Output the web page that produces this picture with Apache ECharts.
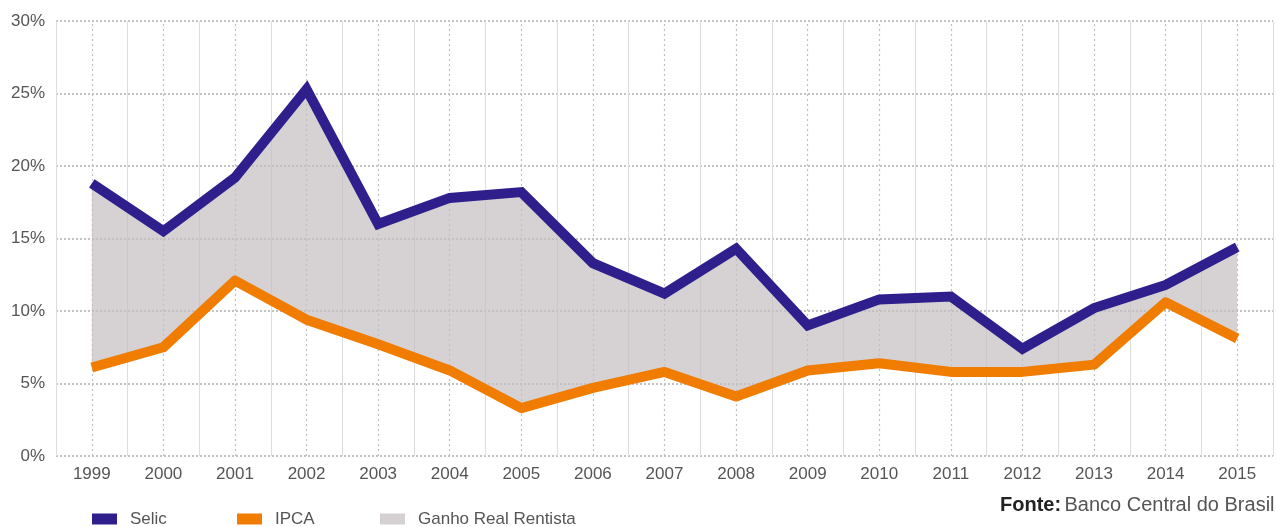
<!DOCTYPE html>
<html><head><meta charset="utf-8">
<script src="https://cdn.jsdelivr.net/npm/echarts@6/dist/echarts.min.js"></script>
<style>html,body{margin:0;padding:0;background:#fff}#c{width:1276px;height:527px}</style>
</head><body><div id="c"></div>
<script>
const years = ['1999','2000','2001','2002','2003','2004','2005','2006','2007','2008','2009','2010','2011','2012','2013','2014','2015'];
const selic = [18.8, 15.5, 19.2, 25.3, 16.0, 17.8, 18.2, 13.3, 11.2, 14.3, 9.0, 10.8, 11.0, 7.4, 10.2, 11.8, 14.4];
const ipca  = [6.1, 7.5, 12.1, 9.4, 7.7, 5.9, 3.3, 4.7, 5.8, 4.1, 5.9, 6.4, 5.8, 5.8, 6.3, 10.6, 8.1];
const yTicks = [0, 5, 10, 15, 20, 25, 30];
const legendNames = ['Selic', 'IPCA', 'Ganho Real Rentista'];
const sourceBold = 'Fonte:';
const sourceText = 'Banco Central do Brasil';
const gain = selic.map((v, i) => +(v - ipca[i]).toFixed(2));

const font = '"Liberation Sans", Arial, sans-serif';
const legendLeft = [92, 237, 380];
const chart = echarts.init(document.getElementById('c'), null, {renderer: 'canvas'});
chart.setOption({
  animation: false,
  grid: {left: 56, right: 3, top: 21, bottom: 71},
  legend: legendNames.map((n, i) => ({
    data: [n], left: legendLeft[i], top: 510, padding: 0,
    itemWidth: 25, itemHeight: 11, icon: 'rect',
    textStyle: {fontFamily: font, fontSize: 17, lineHeight: 18, color: '#555', padding: [0, 0, 0, 8]}
  })),
  xAxis: {
    type: 'category', data: years, boundaryGap: true,
    axisLine: {show: false}, axisTick: {show: false},
    axisLabel: {fontFamily: font, fontSize: 17, color: '#555', margin: 10},
    splitLine: {show: true, lineStyle: {color: '#dedede', width: 1}}
  },
  yAxis: {
    type: 'value', min: 0, max: 30, interval: 5,
    axisLine: {show: false}, axisTick: {show: false},
    axisLabel: {fontFamily: font, fontSize: 17, color: '#555', margin: 11,
      formatter: v => yTicks.includes(v) ? v + '%' : ''},
    splitLine: {lineStyle: {type: [2, 2], color: '#b0b0b0', width: 1.5}}
  },
  series: [
    {name: 'base', type: 'line', stack: 'g', data: ipca, symbol: 'none', silent: true,
     lineStyle: {width: 0, opacity: 0}, z: 1,
     markLine: {z: 1, symbol: 'none', silent: true, label: {show: false},
       lineStyle: {type: [2, 3], color: '#c0c0c0', width: 1.2},
       data: years.map(y => ({xAxis: y}))}},
    {name: 'Ganho Real Rentista', type: 'line', stack: 'g', data: gain, symbol: 'none',
     lineStyle: {width: 0, opacity: 0}, itemStyle: {color: '#d5d1d3'},
     areaStyle: {color: 'rgb(196,191,194)', opacity: 0.7}, z: 2},
    {name: 'Selic', type: 'line', data: selic, symbol: 'none', z: 4,
     itemStyle: {color: '#2f1f8c'}, lineStyle: {color: '#2f1f8c', width: 10, join: 'miter'}},
    {name: 'IPCA', type: 'line', data: ipca, symbol: 'none', z: 3,
     itemStyle: {color: '#f07c00'}, lineStyle: {color: '#f07c00', width: 10, join: 'round'}}
  ],
  graphic: [{
    type: 'text', x: 1000, y: 505,
    style: {verticalAlign: 'middle',
            rich: {b: {fontFamily: font, fontWeight: 'bold', fontSize: 20, fill: '#222'},
                   n: {fontFamily: font, fontSize: 20, fill: '#555'}},
            text: '{b|' + sourceBold + '} {n|' + sourceText + '}'}
  }]
});
</script></body></html>
